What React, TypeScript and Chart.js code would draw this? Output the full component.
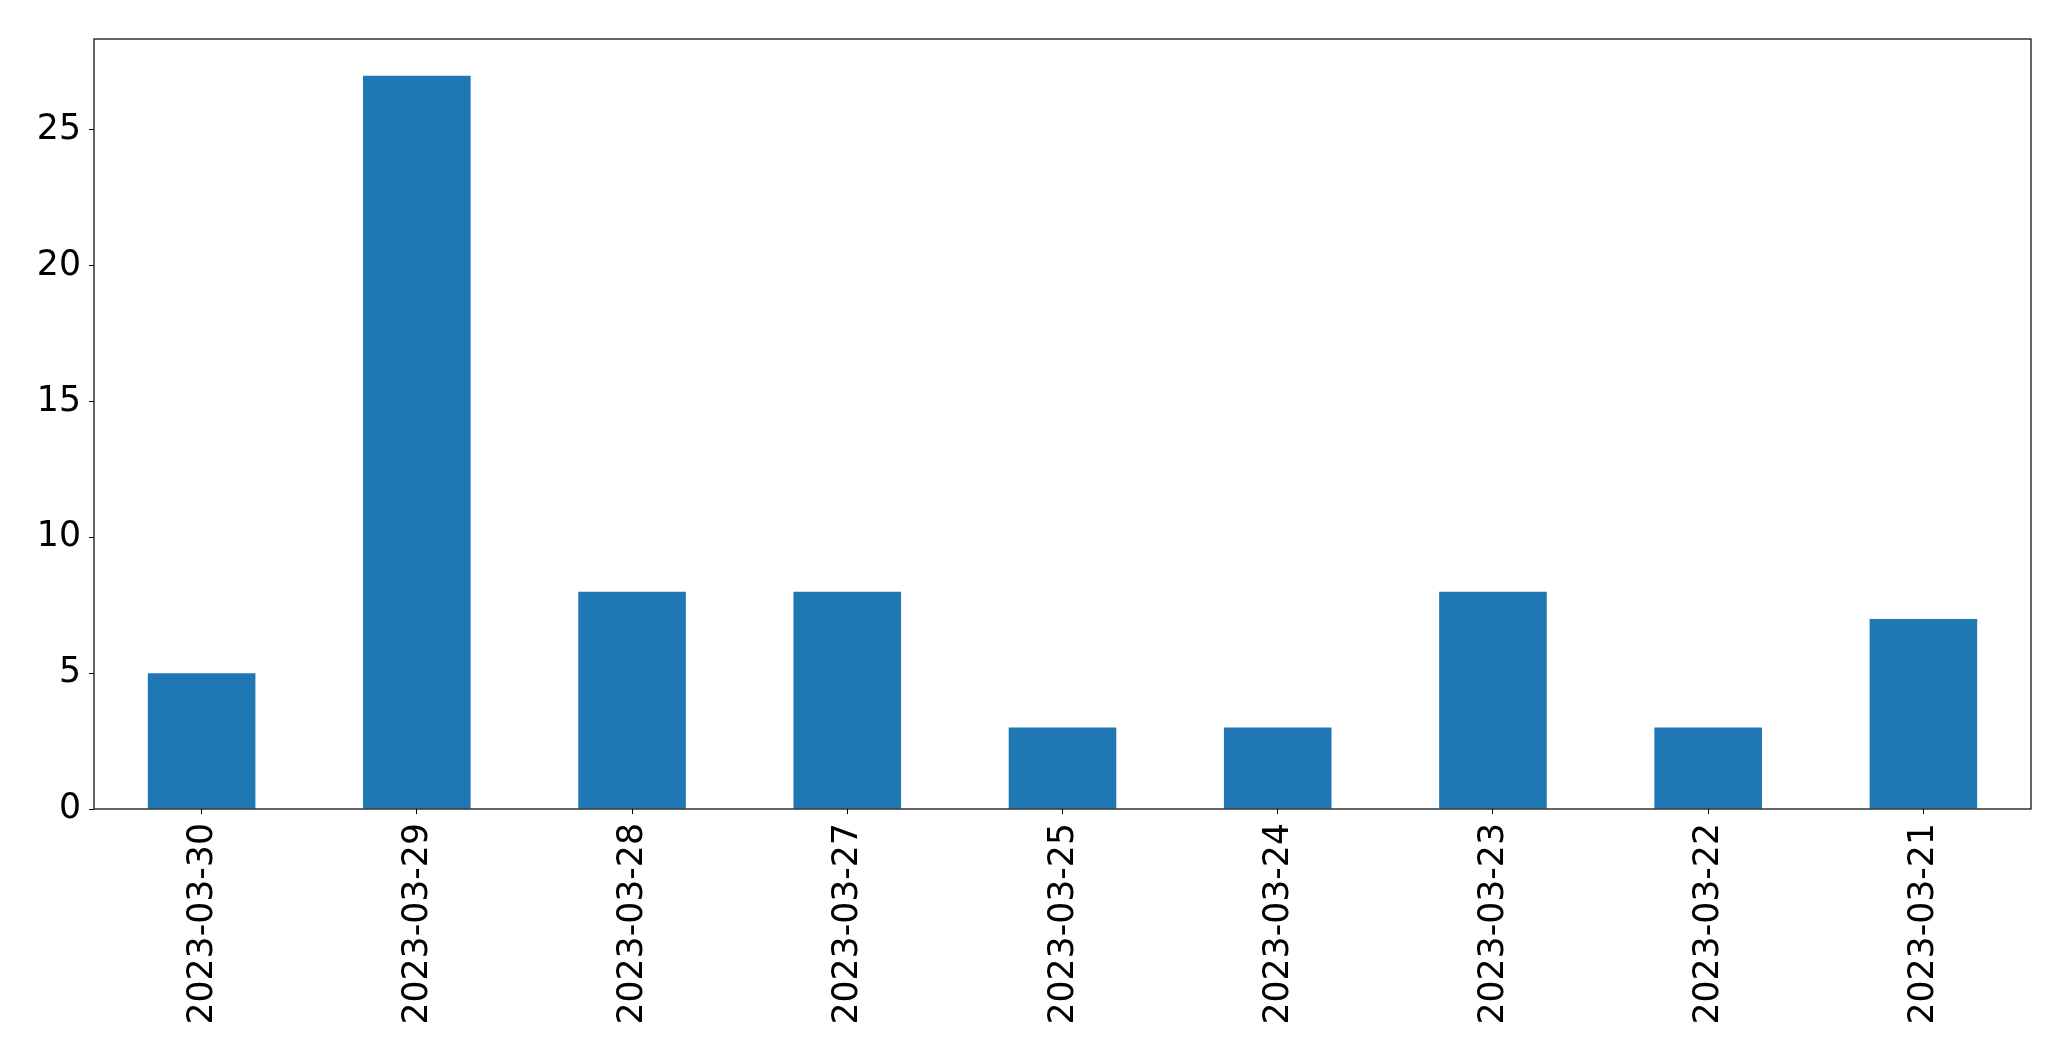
import React, { useEffect, useRef } from "react";
import { Chart, registerables } from "chart.js";

Chart.register(...registerables);

const categories: string[] = [
  "2023-03-30",
  "2023-03-29",
  "2023-03-28",
  "2023-03-27",
  "2023-03-25",
  "2023-03-24",
  "2023-03-23",
  "2023-03-22",
  "2023-03-21",
];
const counts: number[] = [5, 27, 8, 8, 3, 3, 8, 3, 7];
const yTicks: number[] = [0, 5, 10, 15, 20, 25];
const yMax = 28.35;

const W = 2071;
const H = 1061;
const FONT = "'DejaVu Sans', sans-serif";
const FONT_SIZE = 34.7;

const frame = {
  id: "frame",
  afterDatasetsDraw(chart: any) {
    const { ctx, chartArea } = chart;
    ctx.save();
    ctx.strokeStyle = "#000";
    ctx.lineWidth = 1.2;
    ctx.strokeRect(chartArea.left, chartArea.top, chartArea.right - chartArea.left, chartArea.bottom - chartArea.top);
    ctx.restore();
  },
};

export default function App() {
  const ref = useRef<HTMLCanvasElement | null>(null);
  useEffect(() => {
    if (!ref.current) return;
    const chart = new Chart(ref.current, {
      type: "bar",
      data: {
        labels: categories,
        datasets: [
          {
            data: counts,
            backgroundColor: "#1f77b4",
            borderWidth: 0,
            categoryPercentage: 1,
            barPercentage: 0.5,
          },
        ],
      },
      plugins: [frame],
      options: {
        responsive: false,
        animation: false,
        devicePixelRatio: 1,
        layout: { padding: { left: 0, top: 39, right: 40, bottom: 0 } },
        plugins: { legend: { display: false }, tooltip: { enabled: false }, title: { display: false } },
        scales: {
          x: {
            type: "category",
            offset: true,
            grid: { display: true, drawOnChartArea: false, drawTicks: true, tickLength: 5, color: "#000", offset: false },
            border: { display: false },
            ticks: {
              minRotation: 90,
              maxRotation: 90,
              autoSkip: false,
              padding: 9,
              labelOffset: 1,
              color: "#000",
              font: { family: FONT, size: FONT_SIZE },
            },
            afterFit: (s: any) => {
              s.height = H - 809;
            },
          },
          y: {
            min: 0,
            max: yMax,
            grid: { display: true, drawOnChartArea: false, drawTicks: true, tickLength: 5, color: "#000" },
            border: { display: false },
            afterBuildTicks: (s: any) => {
              s.ticks = yTicks.map((v) => ({ value: v }));
            },
            ticks: {
              includeBounds: false,
              padding: 8,
              color: "#000",
              font: { family: FONT, size: FONT_SIZE },
            },
            afterFit: (s: any) => {
              s.width = 94;
            },
          },
        },
      },
    });
    return () => chart.destroy();
  }, []);
  return (
    <div style={{ position: "absolute", left: 0, top: 0, width: W, height: H, background: "#fff" }}>
      <canvas ref={ref} width={W} height={H} style={{ width: W, height: H, display: "block" }} />
    </div>
  );
}
